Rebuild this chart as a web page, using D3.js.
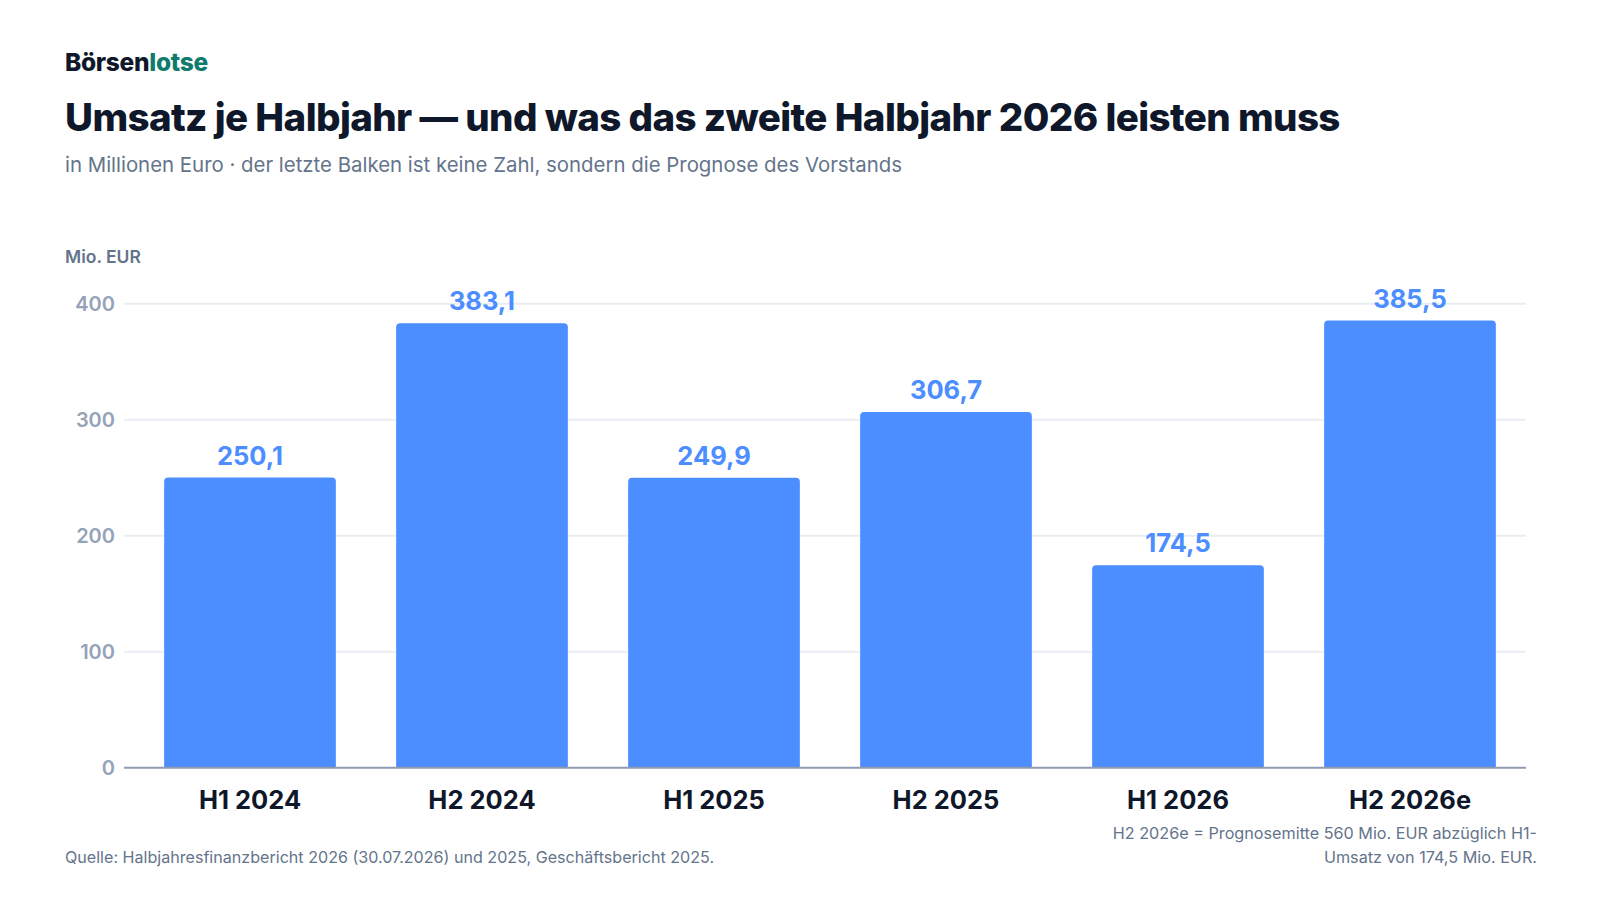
<!DOCTYPE html>
<html lang="de">
<head>
<meta charset="utf-8">
<script src="https://cdn.jsdelivr.net/npm/d3@7"></script>
<style>
  html, body { margin: 0; padding: 0; background: #ffffff; }
  svg { display: block; font-family: Inter, "Noto Sans", sans-serif; }
</style>
</head>
<body>
<svg id="chart" width="1600" height="900"></svg>
<script>
// Data
const categories = ["H1 2024", "H2 2024", "H1 2025", "H2 2025", "H1 2026", "H2 2026e"];
const revenue = [250.1, 383.1, 249.9, 306.7, 174.5, 385.5];
const yTicks = [0, 100, 200, 300, 400];

// Style variables
const barColor = "#4c8dff";
const inkDark = "#0f172a";
const inkMuted = "#64748b";
const inkAxis = "#94a3b8";
const gridColor = "#e9edf2";

const svg = d3.select("#chart");

// Plot area
const plotLeft = 124,
  plotRight = 1526,
  plotTop = 303.7,
  plotBottom = 767.7;

const x = d3
  .scaleBand()
  .domain(categories)
  .range([134, plotRight])
  .paddingInner(0.26)
  .paddingOuter(0.13);

const y = d3.scaleLinear().domain([0, 400]).range([plotBottom, plotTop]);

const fmt = (v) => d3.format(".1f")(v).replace(".", ",");

// Header
const brand = svg
  .append("text")
  .attr("x", 65)
  .attr("y", 71)
  .attr("font-size", 24.5)
  .attr("font-weight", 800)
  .attr("letter-spacing", "-0.3");
brand.append("tspan").attr("fill", inkDark).text("Börsen");
brand.append("tspan").attr("fill", "#0f7b6c").text("lotse");

svg
  .append("text")
  .attr("x", 65)
  .attr("y", 131)
  .attr("font-size", 38.5)
  .attr("font-weight", 800)
  .attr("letter-spacing", "-0.6")
  .attr("fill", inkDark)
  .text("Umsatz je Halbjahr — und was das zweite Halbjahr 2026 leisten muss");

svg
  .append("text")
  .attr("x", 65)
  .attr("y", 172)
  .attr("font-size", 20.4)
  .attr("fill", inkMuted)
  .text("in Millionen Euro · der letzte Balken ist keine Zahl, sondern die Prognose des Vorstands");

svg
  .append("text")
  .attr("x", 65)
  .attr("y", 263)
  .attr("font-size", 17.5)
  .attr("font-weight", 600)
  .attr("fill", inkMuted)
  .text("Mio. EUR");

// Gridlines
svg
  .append("g")
  .selectAll("line")
  .data(yTicks.filter((t) => t > 0))
  .enter()
  .append("line")
  .attr("x1", plotLeft)
  .attr("x2", plotRight)
  .attr("y1", (d) => y(d))
  .attr("y2", (d) => y(d))
  .attr("stroke", gridColor)
  .attr("stroke-width", 2);

// Y axis labels
const yAxis = d3
  .axisLeft(y)
  .tickValues(yTicks)
  .tickSize(0)
  .tickPadding(0)
  .tickFormat((d) => d);

const yG = svg
  .append("g")
  .attr("transform", "translate(115,0)")
  .call(yAxis);
yG.select(".domain").remove();
yG.selectAll(".tick text")
  .attr("font-family", "Inter, sans-serif")
  .attr("font-size", 20)
  .attr("font-weight", 600)
  .attr("fill", inkAxis);

// Bars with rounded top corners
const r = 4;
svg
  .append("g")
  .selectAll("path")
  .data(revenue)
  .enter()
  .append("path")
  .attr("fill", barColor)
  .attr("d", (d, i) => {
    const x0 = x(categories[i]),
      w = x.bandwidth(),
      top = y(d),
      bottom = y(0);
    return (
      "M" + x0 + "," + bottom +
      "V" + (top + r) +
      "Q" + x0 + "," + top + " " + (x0 + r) + "," + top +
      "H" + (x0 + w - r) +
      "Q" + (x0 + w) + "," + top + " " + (x0 + w) + "," + (top + r) +
      "V" + bottom + "Z"
    );
  });

// Value labels
svg
  .append("g")
  .selectAll("text")
  .data(revenue)
  .enter()
  .append("text")
  .attr("x", (d, i) => x(categories[i]) + x.bandwidth() / 2)
  .attr("y", (d) => y(d) - 13)
  .attr("text-anchor", "middle")
  .attr("font-size", 25.5)
  .attr("font-weight", 700)
  .attr("fill", barColor)
  .text((d) => fmt(d));

// X axis
const xAxis = d3.axisBottom(x).tickSize(0).tickPadding(0);
const xG = svg
  .append("g")
  .attr("transform", "translate(0," + plotBottom + ")")
  .call(xAxis);
xG.select(".domain").remove();
xG.selectAll(".tick text")
  .attr("font-family", "Inter, sans-serif")
  .attr("font-size", 25.5)
  .attr("font-weight", 700)
  .attr("fill", inkDark)
  .attr("dy", null)
  .attr("y", 41);

svg
  .append("line")
  .attr("x1", plotLeft)
  .attr("x2", plotRight)
  .attr("y1", y(0))
  .attr("y2", y(0))
  .attr("stroke", "#8f9ab0")
  .attr("stroke-width", 2);

// Footer
svg
  .append("text")
  .attr("x", 65)
  .attr("y", 863)
  .attr("font-size", 16.1)
  .attr("fill", inkMuted)
  .text("Quelle: Halbjahresfinanzbericht 2026 (30.07.2026) und 2025, Geschäftsbericht 2025.");

const note = svg
  .append("text")
  .attr("text-anchor", "end")
  .attr("font-size", 16.2)
  .attr("fill", inkMuted);
note.append("tspan").attr("x", 1537).attr("y", 839).text("H2 2026e = Prognosemitte 560 Mio. EUR abzüglich H1-");
note.append("tspan").attr("x", 1537).attr("y", 863).text("Umsatz von 174,5 Mio. EUR.");
</script>
</body>
</html>
